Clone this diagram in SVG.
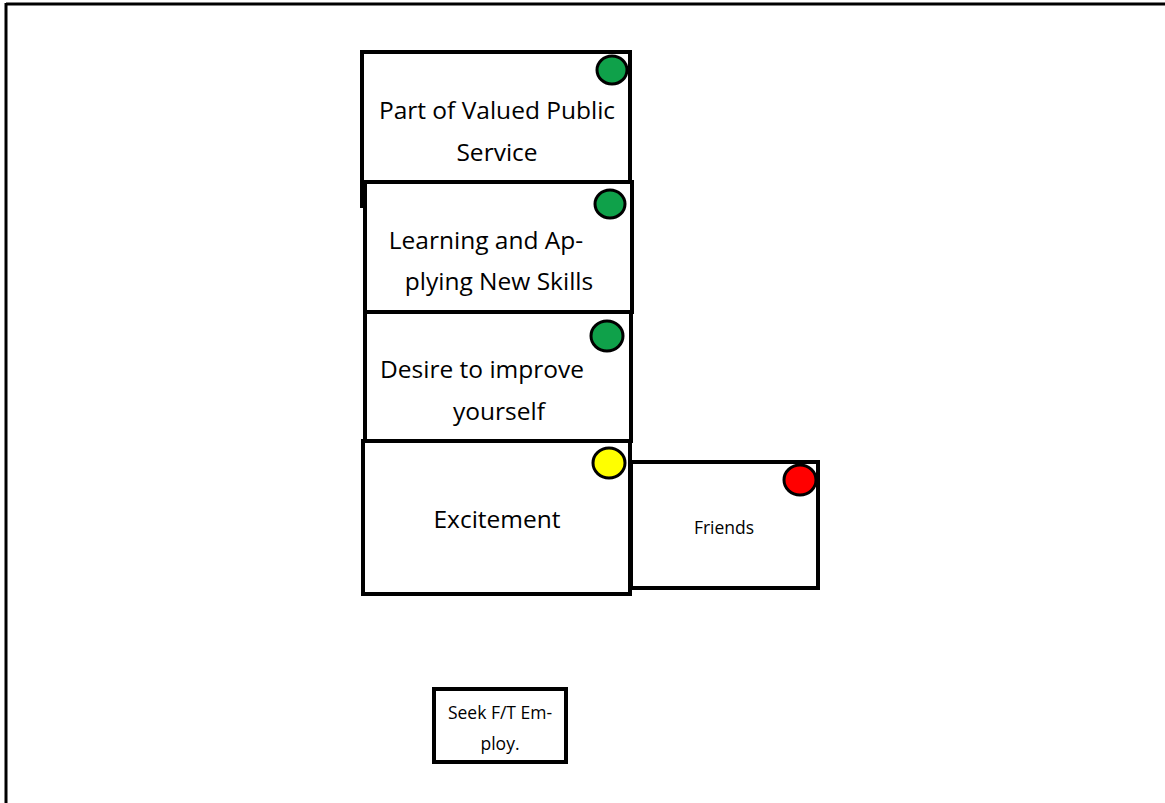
<svg xmlns="http://www.w3.org/2000/svg" width="1165" height="803" viewBox="0 0 1165 803">
<style>
.box{fill:#fff;stroke:#000;stroke-width:4}
.dot{stroke:#000;stroke-width:3}
.g{fill:#0fa14a}
.y{fill:#ffff00}
.r{fill:#ff0000}
text{font-family:"Open Sans","Noto Sans",sans-serif;fill:#000;text-anchor:middle}
.big{font-size:24.5px}
.sm{font-size:17.5px}
</style>
<rect width="1165" height="803" fill="#fff"/>
<g id="frame">
<line x1="6" y1="4" x2="1165" y2="4" stroke="#000" stroke-width="3"/>
<line x1="6" y1="3" x2="6" y2="803" stroke="#000" stroke-width="3"/>
</g>
<g id="n1">
<rect class="box" x="362" y="52" width="268" height="130"/>
<line x1="362" y1="180" x2="362" y2="208" stroke="#000" stroke-width="4"/>
<ellipse class="dot g" cx="612" cy="70" rx="15" ry="14"/>
<text class="big" x="497" y="119">Part of Valued Public</text>
<text class="big" x="497" y="161">Service</text>
</g>
<g id="n2">
<rect class="box" x="365" y="182" width="267" height="130"/>
<ellipse class="dot g" cx="610" cy="204" rx="15" ry="14"/>
<text class="big" x="486" y="249">Learning and Ap-</text>
<text class="big" x="499" y="290">plying New Skills</text>
</g>
<g id="n3">
<rect class="box" x="365" y="312" width="266" height="129"/>
<ellipse class="dot g" cx="607" cy="336" rx="16" ry="15"/>
<text class="big" x="482" y="378">Desire to improve</text>
<text class="big" x="499" y="420">yourself</text>
</g>
<g id="n4">
<rect class="box" x="363" y="441" width="267" height="153"/>
<ellipse class="dot y" cx="609" cy="463" rx="16" ry="15"/>
<text class="big" x="497" y="528">Excitement</text>
</g>
<g id="n5">
<rect class="box" x="631" y="462" width="187" height="126"/>
<ellipse class="dot r" cx="800" cy="480" rx="16" ry="15"/>
<text class="sm" x="724" y="534">Friends</text>
</g>
<g id="n6">
<rect class="box" x="434" y="689" width="132" height="73"/>
<text class="sm" x="500" y="719">Seek F/T Em-</text>
<text class="sm" x="500" y="750">ploy.</text>
</g>
<g id="connectors"></g>
</svg>
